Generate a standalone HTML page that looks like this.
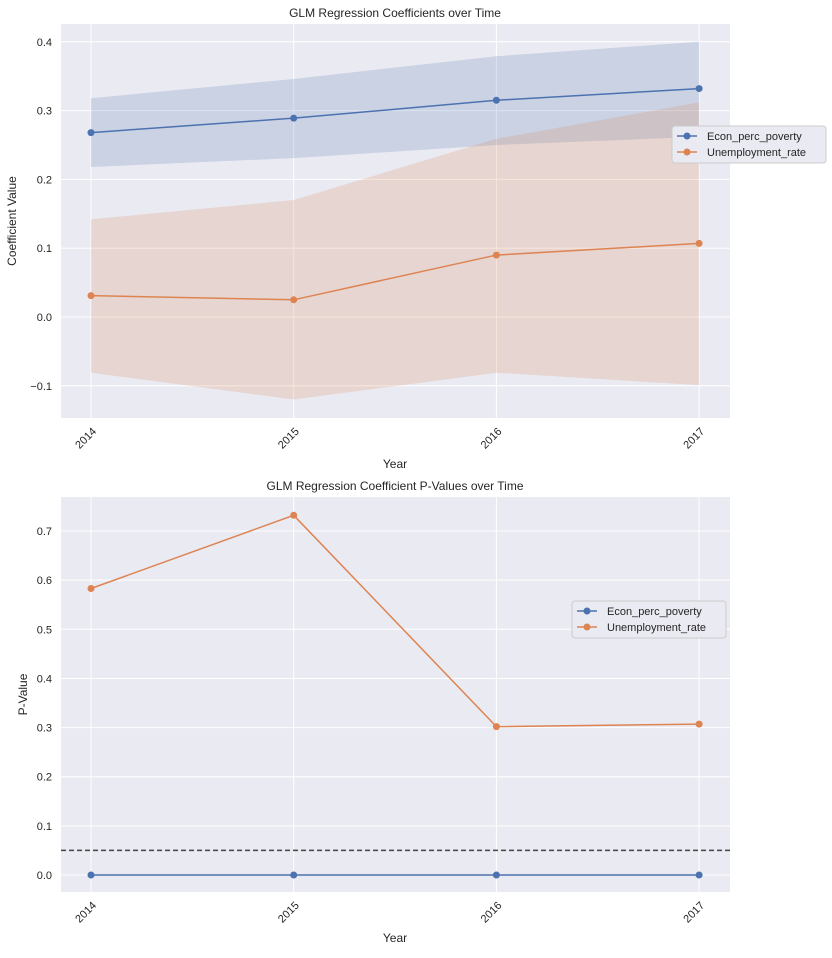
<!DOCTYPE html>
<html><head><meta charset="utf-8"><style>
body{margin:0;background:#fff;font-family:"Liberation Sans","DejaVu Sans",sans-serif}
svg text{fill:#262626;font-family:"Liberation Sans","DejaVu Sans",sans-serif}
</style></head><body>
<svg id="chart" width="832" height="953" xmlns="http://www.w3.org/2000/svg"></svg>
<script>
const years = ["2014","2015","2016","2017"];
const econCoef = [0.268,0.289,0.315,0.332];
const econLo = [0.218,0.231,0.250,0.262];
const econHi = [0.318,0.346,0.379,0.400];
const unempCoef = [0.031,0.025,0.090,0.107];
const unempLo = [-0.081,-0.120,-0.081,-0.099];
const unempHi = [0.142,0.170,0.259,0.312];
const econP = [0.0,0.0,0.0,0.0];
const unempP = [0.583,0.732,0.302,0.307];
const topTicks = [-0.1,0.0,0.1,0.2,0.3,0.4];
const botTicks = [0.0,0.1,0.2,0.3,0.4,0.5,0.6,0.7];
const threshold = 0.05;

const NS="http://www.w3.org/2000/svg";
const svg=document.getElementById('chart');
function mk(tag,attrs,parent){const e=document.createElementNS(NS,tag);for(const k in attrs)e.setAttribute(k,attrs[k]);(parent||svg).appendChild(e);return e;}
const BLUE="#4c72b0", ORANGE="#dd8452";
const xs=i=>91+i*202.7;

function panel(cfg){
  const g=mk('g',{});
  
  
  const bg=mk('rect',{x:61,y:cfg.top,width:669,height:cfg.bottom-cfg.top,fill:'#eaeaf2'},g);
  
  
  cfg.ticks.forEach(t=>{
    const y=cfg.y(t);
    mk('line',{x1:61,x2:730,y1:y,y2:y,stroke:'#fff','stroke-width':1},g);
    const tx=mk('text',{x:52,y:y+4,'text-anchor':'end','font-size':11},g);
    tx.textContent=(t<0?'\u2212':'')+Math.abs(t).toFixed(1);
    
    
  });
  years.forEach((yr,i)=>{
    const x=xs(i);
    mk('line',{x1:x,x2:x,y1:cfg.top,y2:cfg.bottom,stroke:'#fff','stroke-width':1},g);
    const tx=mk('text',{x:x+6,y:cfg.bottom+14,'text-anchor':'end','font-size':11,transform:`rotate(-45 ${x+6} ${cfg.bottom+14})`},g);
    tx.textContent=yr;
    
    
  });
  const t=mk('text',{x:395,y:cfg.top-7,'text-anchor':'middle','font-size':12},g);
  t.textContent=cfg.title;
  
  
  const xl=mk('text',{x:395,y:cfg.bottom+50,'text-anchor':'middle','font-size':12},g);
  xl.textContent='Year';
  
  
  const yc=(cfg.top+cfg.bottom)/2;
  const yl=mk('text',{x:cfg.ylx,y:yc,'text-anchor':'middle','font-size':12,transform:`rotate(-90 ${cfg.ylx} ${yc})`},g);
  yl.textContent=cfg.ylabel;
  
  
  return g;
}
function band(g,lo,hi,y,color,name){
  let d='M'+lo.map((v,i)=>xs(i)+','+y(v)).join('L');
  d+='L'+hi.map((v,i)=>xs(i)+','+y(v)).reverse().join('L')+'Z';
  const p=mk('path',{d:d,fill:color,'fill-opacity':0.2},g);
  
  
}
function series(g,vals,y,color,name){
  const p=mk('polyline',{points:vals.map((v,i)=>xs(i)+','+y(v)).join(' '),fill:'none',stroke:color,'stroke-width':1.5},g);
  
  
  vals.forEach((v,i)=>{
    const c=mk('circle',{cx:xs(i),cy:y(v),r:3.5,fill:color},g);
    
    
  });
}
function legend(x,y){
  const g=mk('g',{});
  
  
  mk('rect',{x:x,y:y,width:154,height:37,rx:3,fill:'#eaeaf2',stroke:'#ccc','stroke-width':1},g);
  [['Econ_perc_poverty',BLUE],['Unemployment_rate',ORANGE]].forEach((e,k)=>{
    const yy=y+10+k*16;
    const eg=mk('g',{},g);
    
    
    mk('line',{x1:x+5,x2:x+25,y1:yy,y2:yy,stroke:e[1],'stroke-width':1.5},eg);
    mk('circle',{cx:x+15,cy:yy,r:3.5,fill:e[1]},eg);
    const t=mk('text',{x:x+35,y:yy+4,'font-size':11},eg);
    t.textContent=e[0];
  });
}

const yTop=v=>317-688*v;
const g1=panel({name:'coefficients-chart',top:24,bottom:418,y:yTop,ticks:topTicks,title:'GLM Regression Coefficients over Time',ylabel:'Coefficient Value',ylx:16});
band(g1,econLo,econHi,yTop,BLUE,'econ-ci-band');
band(g1,unempLo,unempHi,yTop,ORANGE,'unemp-ci-band');
series(g1,econCoef,yTop,BLUE,'econ');
series(g1,unempCoef,yTop,ORANGE,'unemp');
legend(672,126);

const yBot=v=>875-491.4*v;
const g2=panel({name:'pvalues-chart',top:497,bottom:892,y:yBot,ticks:botTicks,title:'GLM Regression Coefficient P-Values over Time',ylabel:'P-Value',ylx:27});
const th=mk('line',{x1:61,x2:730,y1:yBot(threshold),y2:yBot(threshold),stroke:'#444','stroke-width':1.5,'stroke-dasharray':'5,3'},g2);


series(g2,econP,yBot,BLUE,'econ-p');
series(g2,unempP,yBot,ORANGE,'unemp-p');
legend(572,601);
</script>
</body></html>
